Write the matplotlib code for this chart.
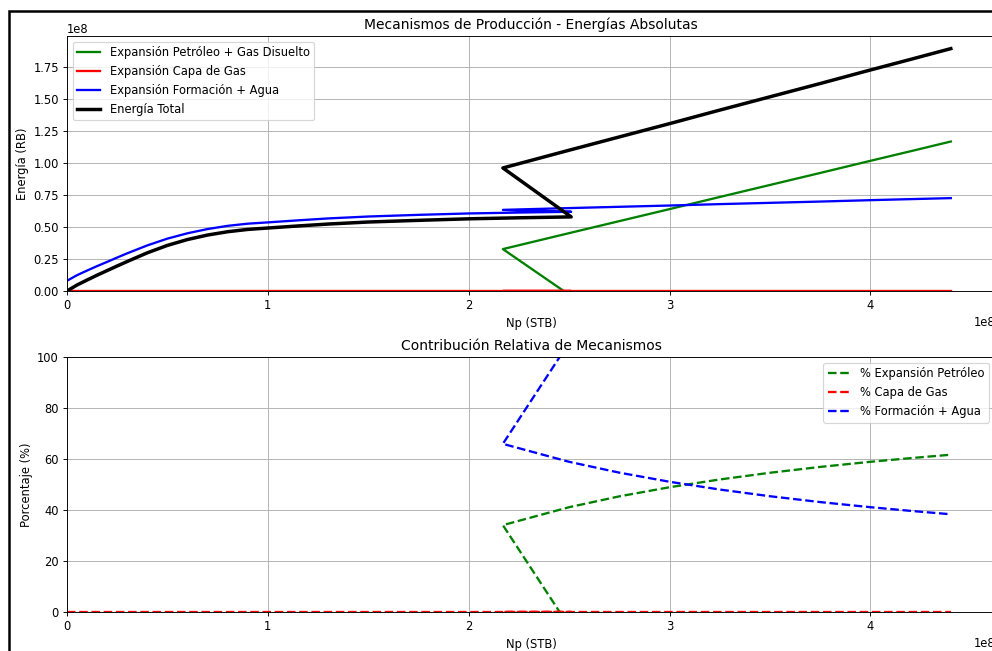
import numpy as np
import matplotlib
matplotlib.use("Agg")
import matplotlib.pyplot as plt
from matplotlib.patches import Rectangle

# Np (STB) in units of 1e8 -- first pass (curved part) then second pass (linear part)
np_stb = [0.00, 0.05, 0.10, 0.15, 0.20, 0.25, 0.30, 0.40, 0.50, 0.60, 0.70,
          0.80, 0.90, 1.00, 1.15, 1.30, 1.50, 1.75, 2.00, 2.25, 2.51,
          2.17, 2.50, 2.75, 3.00, 3.25, 3.50, 3.75, 4.00, 4.20, 4.40]

# energies (RB) in units of 1e8
oil_gas = [-0.0799, -0.077, -0.074, -0.071, -0.068, -0.066, -0.064, -0.058, -0.053, -0.049, -0.047,
           -0.046, -0.045, -0.044, -0.044, -0.044, -0.043, -0.043, -0.042, -0.041, -0.040,
           0.328, 0.453, 0.547, 0.641, 0.736, 0.830, 0.924, 1.019, 1.094, 1.170]
gas_cap = [0.0] * len(np_stb)
form_water = [0.080, 0.124, 0.160, 0.195, 0.228, 0.262, 0.295, 0.357, 0.410, 0.452, 0.485,
              0.510, 0.527, 0.537, 0.553, 0.568, 0.583, 0.596, 0.607, 0.614, 0.620,
              0.635, 0.649, 0.659, 0.669, 0.680, 0.690, 0.700, 0.711, 0.719, 0.727]

x = np.array(np_stb) * 1e8
e_oil = np.array(oil_gas) * 1e8
e_gas = np.array(gas_cap) * 1e8
e_form = np.array(form_water) * 1e8
e_total = e_oil + e_gas + e_form

pct_oil = e_oil / e_total * 100
pct_gas = e_gas / e_total * 100
pct_form = e_form / e_total * 100

DPI = 83
fig = plt.figure(figsize=(992 / DPI, 651 / DPI), dpi=DPI)
ax1 = fig.add_axes([67 / 992, 1 - 291 / 651, 928 / 992, 255 / 651])
ax2 = fig.add_axes([67 / 992, 1 - 612 / 651, 928 / 992, 255 / 651])

# energias absolutas
ax1.plot(x, e_oil, color="green", lw=2, label="Expansión Petróleo + Gas Disuelto")
ax1.plot(x, e_gas, color="red", lw=2, label="Expansión Capa de Gas")
ax1.plot(x, e_form, color="blue", lw=2, label="Expansión Formación + Agua")
ax1.plot(x, e_total, color="black", lw=3, label="Energía Total")
ax1.set_xlim(left=0)
ax1.set_ylim(bottom=0)
ax1.set_xlabel("Np (STB)")
ax1.set_ylabel("Energía (RB)")
ax1.set_title("Mecanismos de Producción - Energías Absolutas", fontsize=12)
ax1.legend(loc="upper left")
ax1.grid(True)

# contribucion relativa
ax2.plot(x, pct_oil, color="green", lw=2, ls="--", label="% Expansión Petróleo")
ax2.plot(x, pct_gas, color="red", lw=2, ls="--", label="% Capa de Gas")
ax2.plot(x, pct_form, color="blue", lw=2, ls="--", label="% Formación + Agua")
ax2.set_xlim(ax1.get_xlim())
ax2.set_ylim(0, 100)
ax2.set_xlabel("Np (STB)")
ax2.set_ylabel("Porcentaje (%)")
ax2.set_title("Contribución Relativa de Mecanismos", fontsize=12)
ax2.legend(loc="upper right")
ax2.grid(True)

# marco de la captura
fig.add_artist(Rectangle((8.5 / 992, -0.2), 1.2, 1.2 - 10.5 / 651, transform=fig.transFigure,
                         fill=False, edgecolor="black", lw=2.5 * 72 / DPI, clip_on=False))

fig.savefig("out.png", dpi=DPI)
